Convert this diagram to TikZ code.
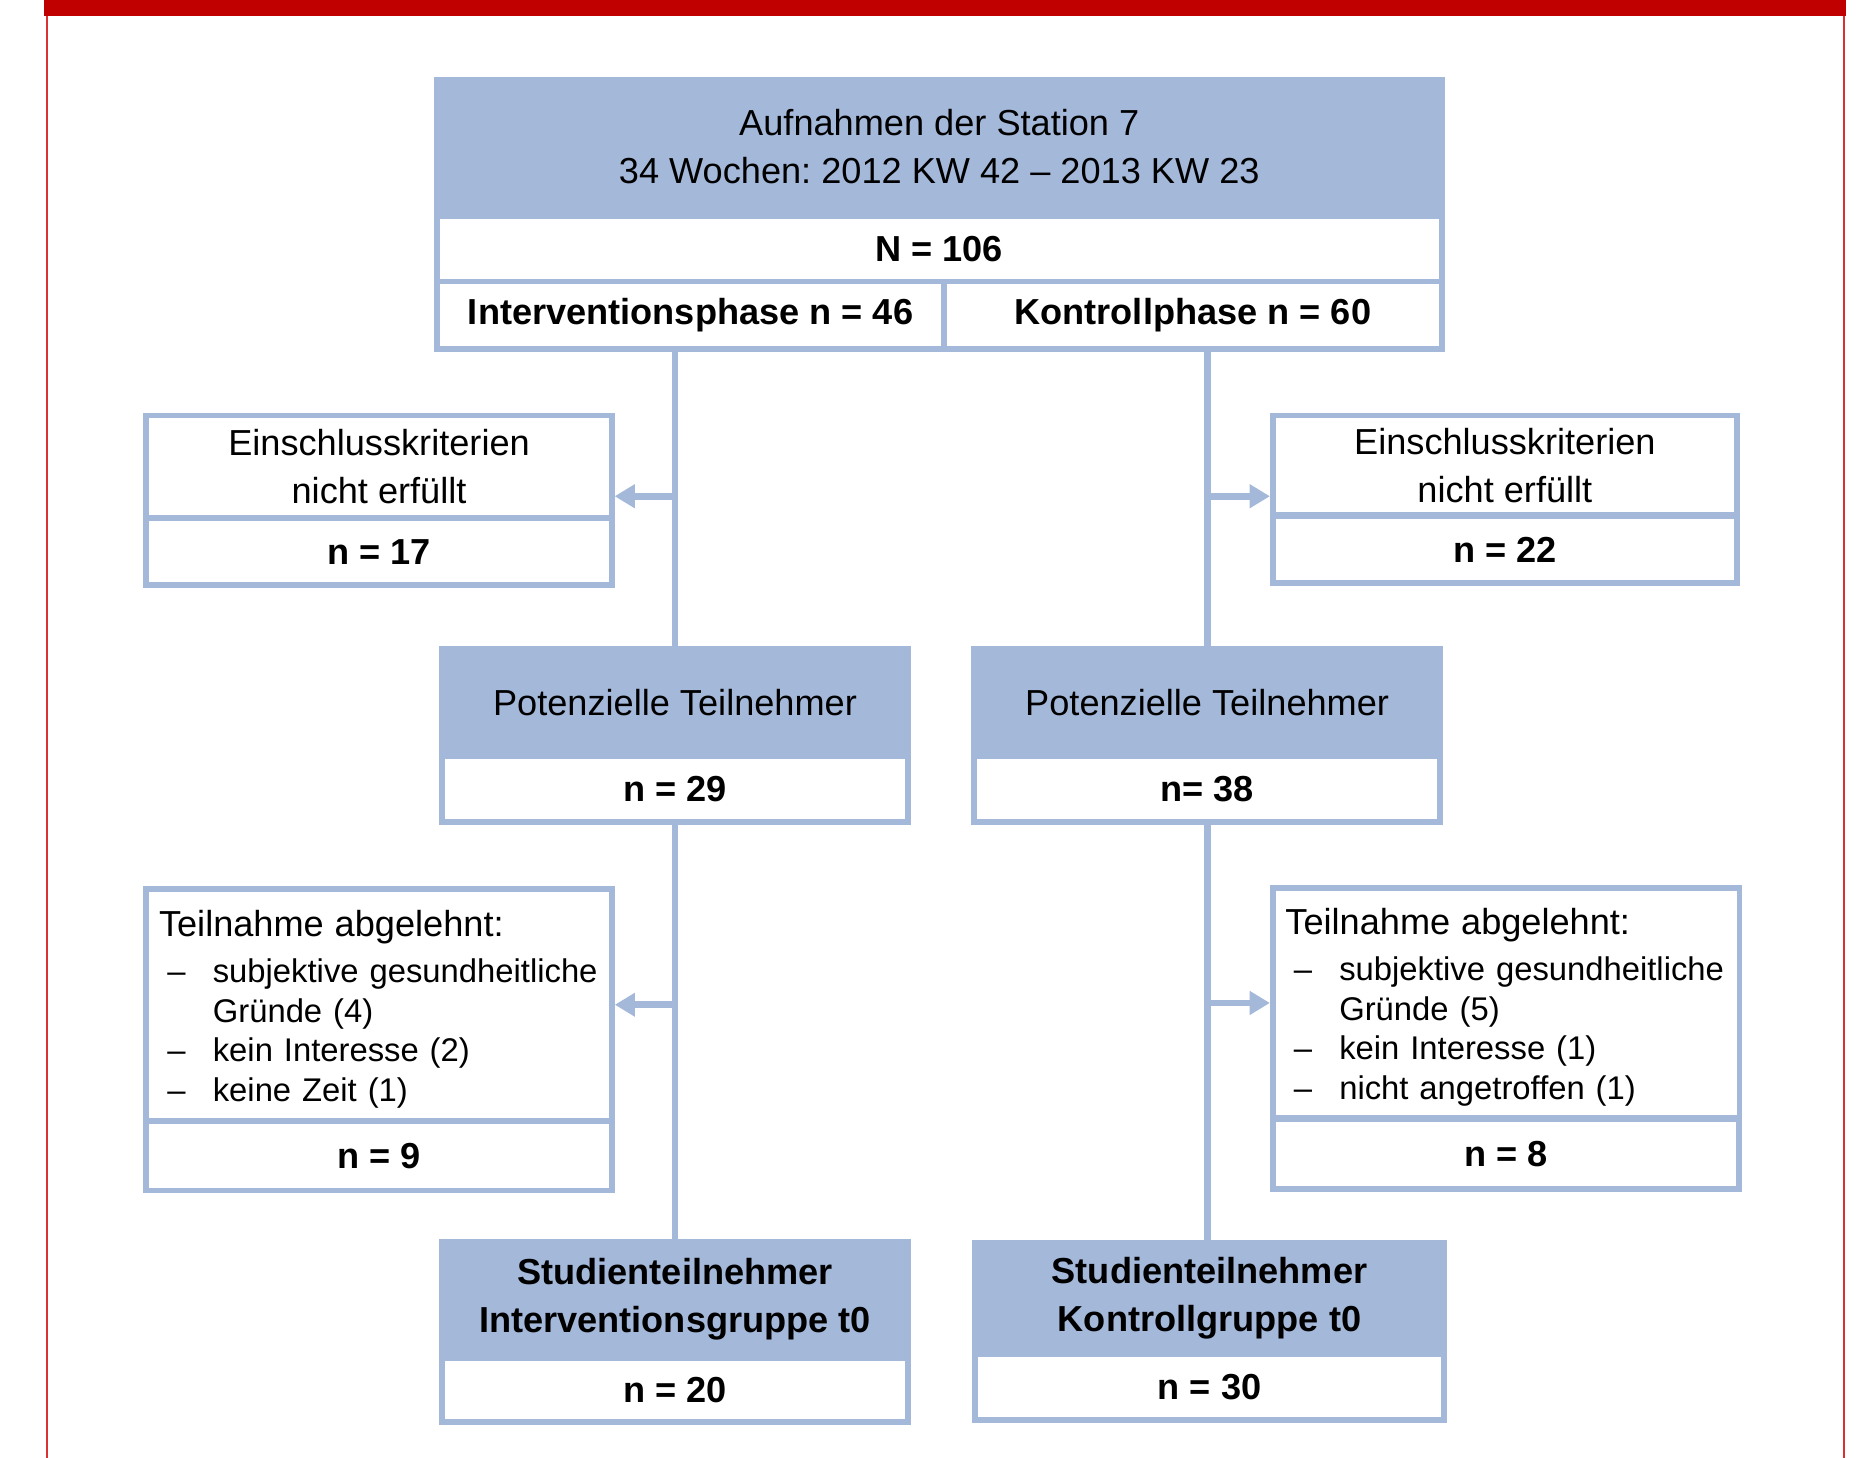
\documentclass[tikz,border=0pt]{standalone}
\usepackage{fontspec}
\setmainfont{Liberation Sans}
\usetikzlibrary{arrows.meta}

\definecolor{flowblue}{RGB}{164,184,218}
\definecolor{framered}{RGB}{192,0,0}
\definecolor{sidered}{RGB}{218,50,50}

\newcommand{\boxfont}{\fontsize{8.6}{11.4}\selectfont}
\newcommand{\listtitle}[1]{{\fontsize{8.6}{9.4}\selectfont\rule{0pt}{8.3pt}#1}}
\newcommand{\listdash}{\hspace*{0.07cm}\makebox[0.38cm][l]{–}}
\newcommand{\listgap}{\hspace*{0.45cm}}

\tikzset{
  boxsize/.style 2 args={minimum width=#1*0.01cm-1.4pt, minimum height=#2*0.01cm-1.4pt},
  boxhead/.style={draw=flowblue, fill=flowblue, line width=1.4pt, anchor=north west, align=center, inner sep=0pt, font=\boxfont},
  boxcell/.style={draw=flowblue, fill=white, line width=1.4pt, anchor=north west, align=center, inner sep=0pt, font=\boxfont},
  numcell/.style={boxcell, font=\boxfont\bfseries},
  listcell/.style={boxcell, align=left, inner xsep=0.105cm, inner ysep=0pt, font=\fontsize{7.8}{9.4}\selectfont},
  conn/.style={flowblue, line width=1.6pt},
  arr/.style={conn, -{Triangle[length=4.8pt,width=5.4pt]}},
  sideline/.style={sidered, line width=0.5pt}
}

\begin{document}
\frenchspacing
\begin{tikzpicture}[x=0.01cm, y=-0.01cm]
\useasboundingbox (0,0) rectangle (1568,1219);
% frame
\fill[framered] (37,0) rectangle (1543.5,13.5);
\draw[sideline] (39.5,13) -- (39.5,1219);
\draw[sideline] (1542,13) -- (1542,1219);

% top box
\node[boxhead, boxsize={845}{116.5}] (top) at (363,64) {Aufnahmen der Station 7\\34 Wochen: 2012 KW 42 – 2013 KW 23};
\node[numcell, boxsize={845}{60}] (topn) at (363,178) {N = 106};
\node[numcell, boxsize={429}{61}] (intph) at (363,233) {Interventionsphase n = 46};
\node[numcell, boxsize={421}{61}] (kontph) at (787,233) {Kontrollphase n = 60};

% Einschlusskriterien
\node[boxcell, boxsize={394}{90.5}] (ein1) at (120,345) {Einschlusskriterien\\nicht erfüllt};
\node[numcell, boxsize={394}{61}] (ein1n) at (120,431) {n = 17};
\node[boxcell, boxsize={393}{88.5}] (ein2) at (1062,345) {Einschlusskriterien\\nicht erfüllt};
\node[numcell, boxsize={393}{61}] (ein2n) at (1062,429) {n = 22};

% potenzielle Teilnehmer
\node[boxhead, boxsize={395}{94.5}] (pot1) at (367,540) {Potenzielle Teilnehmer};
\node[numcell, boxsize={395}{60}] (pot1n) at (367,630) {n = 29};
\node[boxhead, boxsize={395}{94.5}] (pot2) at (812,540) {Potenzielle Teilnehmer};
\node[numcell, boxsize={395}{60}] (pot2n) at (812,630) {n= 38};

% Teilnahme abgelehnt
\node[listcell, boxsize={394}{198.5}, text width=3.68cm] (abl1) at (120,741) {\listtitle{Teilnahme abgelehnt:}\\[1.6pt]
  \mbox{\listdash subjektive gesundheitliche}\\
  \mbox{\listgap Gründe (4)}\\
  \mbox{\listdash kein Interesse (2)}\\
  \mbox{\listdash keine Zeit (1)}};
\node[numcell, boxsize={394}{63}] (abl1n) at (120,935) {n = 9};
\node[listcell, boxsize={395}{197.5}, text width=3.69cm] (abl2) at (1062,740) {\listtitle{Teilnahme abgelehnt:}\\[1.6pt]
  \mbox{\listdash subjektive gesundheitliche}\\
  \mbox{\listgap Gründe (5)}\\
  \mbox{\listdash kein Interesse (1)}\\
  \mbox{\listdash nicht angetroffen (1)}};
\node[numcell, boxsize={395}{64}] (abl2n) at (1062,933) {n = 8};

% Studienteilnehmer
\node[boxhead, font=\boxfont\bfseries, boxsize={395}{101.5}] (stud1) at (367,1036) {Studienteilnehmer\\Interventionsgruppe t0};
\node[numcell, boxsize={395}{59}] (stud1n) at (367,1133) {n = 20};
\node[boxhead, font=\boxfont\bfseries, boxsize={397}{97.5}] (stud2) at (813,1037) {Studienteilnehmer\\Kontrollgruppe t0};
\node[numcell, boxsize={397}{60}] (stud2n) at (813,1130) {n = 30};

% connectors
\coordinate (e1) at (564.5,415);
\coordinate (e2) at (1009.5,415);
\draw[conn] (pot1.north |- intph.south) -- (pot1.north);
\draw[conn] (pot2.north |- kontph.south) -- (pot2.north);
\draw[conn] (pot1n.south) -- (stud1.north);
\draw[conn] (pot2n.south) -- (pot2n.south |- stud2.north);
\draw[arr] (e1) -- (e1 -| ein1.east);
\draw[arr] (e2) -- (e2 -| ein2.west);
\draw[arr] (pot1n.south |- abl1.east) -- (abl1.east);
\draw[arr] (pot2n.south |- abl2.west) -- (abl2.west);
\end{tikzpicture}
\end{document}
